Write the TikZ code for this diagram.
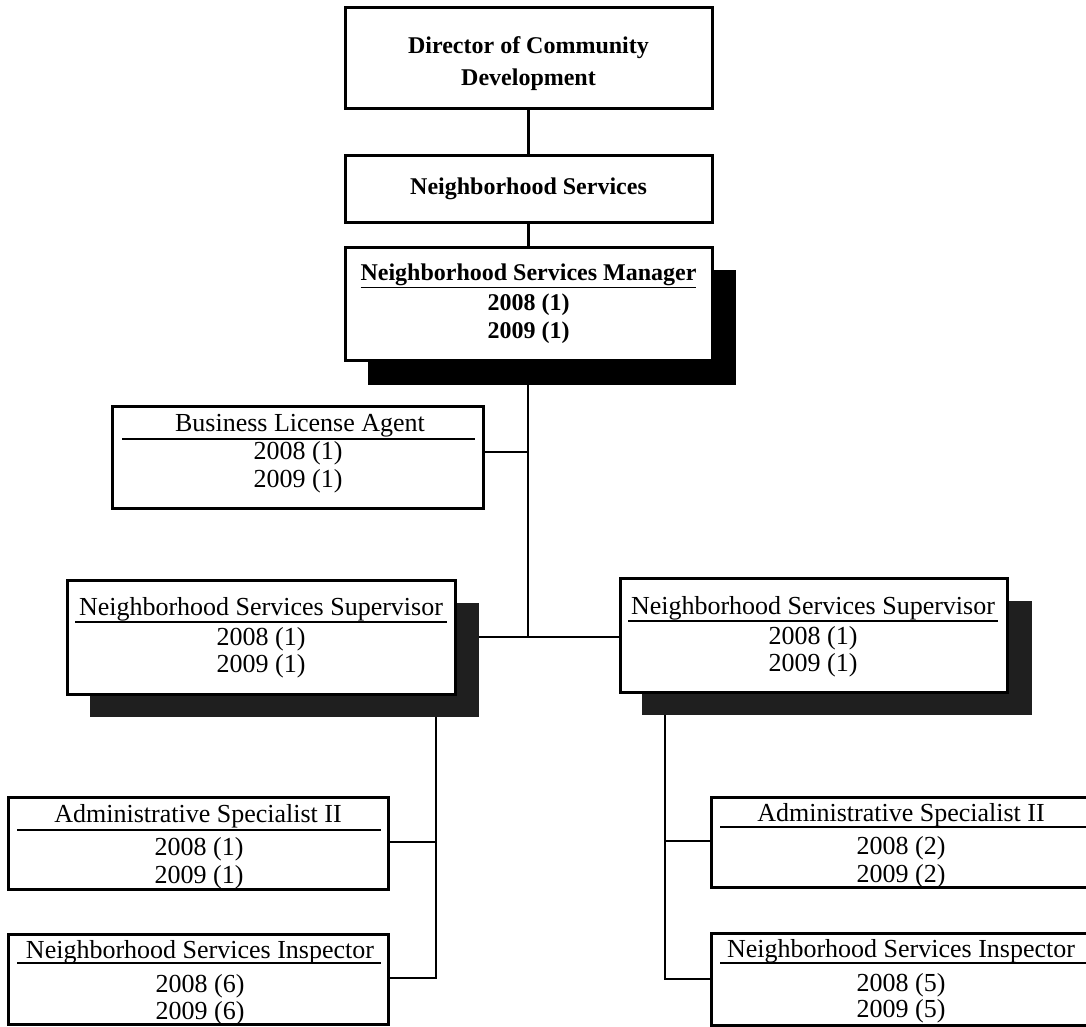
\documentclass[tikz,border=0pt]{standalone}
\usepackage{fontspec}
\setmainfont{Liberation Serif}
\begin{document}
\begin{tikzpicture}[x=1pt,y=-1pt,
  box/.style={draw=black, line width=3pt, fill=white, inner sep=0pt},
  shadowbk/.style={fill=black, inner sep=0pt, draw=none},
  shadowgr/.style={fill=black!88, inner sep=0pt, draw=none},
  rulel/.style={line width=2.2pt},
  conn/.style={line width=2.8pt},
  lbl/.style={font=\fontsize{26}{28}\selectfont, inner sep=0pt, anchor=base},
  blbl/.style={font=\bfseries\fontsize{24}{32}\selectfont, inner sep=0pt, align=center}
]
\useasboundingbox[fill=white] (0,0) rectangle (1086,1026);

% ---- top boxes
\node[box, minimum width=367, minimum height=101] (dir) at (528.5,57.5) {};
\node[blbl] (dirT) at (528.5,64) {Director of Community\\Development};

\node[box, minimum width=367, minimum height=67] (ns) at (528.5,188.5) {};
\node[blbl] (nsT) at (528.5,188.5) {Neighborhood Services};

% ---- manager
\node[shadowbk, minimum width=368, minimum height=115] (mgrS) at (552,327.5) {};
\node[box, minimum width=367, minimum height=113] (mgr) at (528.5,303.5) {};
\node[lbl, font=\bfseries\fontsize{24}{28}\selectfont] (mgrT) at (528.5,280) {\underline{Neighborhood Services Manager}};
\node[lbl, font=\bfseries\fontsize{24}{28}\selectfont] (mgrA) at (528.5,310) {2008 (1)};
\node[lbl, font=\bfseries\fontsize{24}{28}\selectfont] (mgrB) at (528.5,338) {2009 (1)};

% ---- business license agent
\node[box, minimum width=371, minimum height=102] (bla) at (297.5,457) {};
\node[lbl] (blaT) at (300,431) {Business License Agent};
\draw[rulel] (122,439) -- (475,439);
\node[lbl] (blaA) at (298,459) {2008 (1)};
\node[lbl] (blaB) at (298,487) {2009 (1)};

% ---- supervisors
\node[shadowgr, minimum width=389, minimum height=114] (supLS) at (284.5,660) {};
\node[box, minimum width=388, minimum height=114] (supL) at (261,637) {};
\node[lbl] (supLT) at (261,615) {Neighborhood Services Supervisor};
\draw[rulel] (75,622) -- (447,622);
\node[lbl] (supLA) at (261,645) {2008 (1)};
\node[lbl] (supLB) at (261,672) {2009 (1)};

\node[shadowgr, minimum width=390, minimum height=114] (supRS) at (837,658) {};
\node[box, minimum width=387, minimum height=114] (supR) at (813.5,635) {};
\node[lbl] (supRT) at (813,614) {Neighborhood Services Supervisor};
\draw[rulel] (628,621) -- (998,621);
\node[lbl] (supRA) at (813,644) {2008 (1)};
\node[lbl] (supRB) at (813,671) {2009 (1)};

% ---- left bottom boxes
\node[box, minimum width=380, minimum height=92] (admL) at (198,843) {};
\node[lbl] (admLT) at (198,822) {Administrative Specialist II};
\draw[rulel] (17,830) -- (381,830);
\node[lbl] (admLA) at (199,855) {2008 (1)};
\node[lbl] (admLB) at (199,883) {2009 (1)};

\node[box, minimum width=380, minimum height=90] (insL) at (198,979) {};
\node[lbl] (insLT) at (200,958) {Neighborhood Services Inspector};
\draw[rulel] (17,963) -- (381,963);
\node[lbl] (insLA) at (200,992) {2008 (6)};
\node[lbl] (insLB) at (200,1019) {2009 (6)};

% ---- right bottom boxes
\node[box, minimum width=389, minimum height=90] (admR) at (905.5,842) {};
\node[lbl] (admRT) at (901,821) {Administrative Specialist II};
\draw[rulel] (720,827) -- (1095,827);
\node[lbl] (admRA) at (901,854) {2008 (2)};
\node[lbl] (admRB) at (901,882) {2009 (2)};

\node[box, minimum width=389, minimum height=92] (insR) at (905.5,979) {};
\node[lbl] (insRT) at (901,957) {Neighborhood Services Inspector};
\draw[rulel] (720,963) -- (1095,963);
\node[lbl] (insRA) at (901,991) {2008 (5)};
\node[lbl] (insRB) at (901,1017) {2009 (5)};

% ---- connectors
\coordinate (jBLA) at (528,452);
\coordinate (jSup) at (528,637);
\coordinate (jLa) at (436,842);
\coordinate (jLb) at (436,978);
\coordinate (jRa) at (665,841);
\coordinate (jRb) at (665,979);

\draw[conn] (dir.south) -- (ns.north);
\draw[conn] (ns.south) -- (mgr.north);
\draw[conn] (528,385) -- (jSup);
\draw[conn] (bla.east |- jBLA) -- (jBLA);
\draw[conn] (supLS.east |- jSup) -- (supR.west |- jSup);
\draw[conn] (436,717) -- (jLb) -- (admL.east |- jLb);
\draw[conn] (jLa) -- (admL.east |- jLa);
\draw[conn] (665,715) -- (jRb) -- (insR.west |- jRb);
\draw[conn] (jRa) -- (admR.west |- jRa);
\end{tikzpicture}
\end{document}
